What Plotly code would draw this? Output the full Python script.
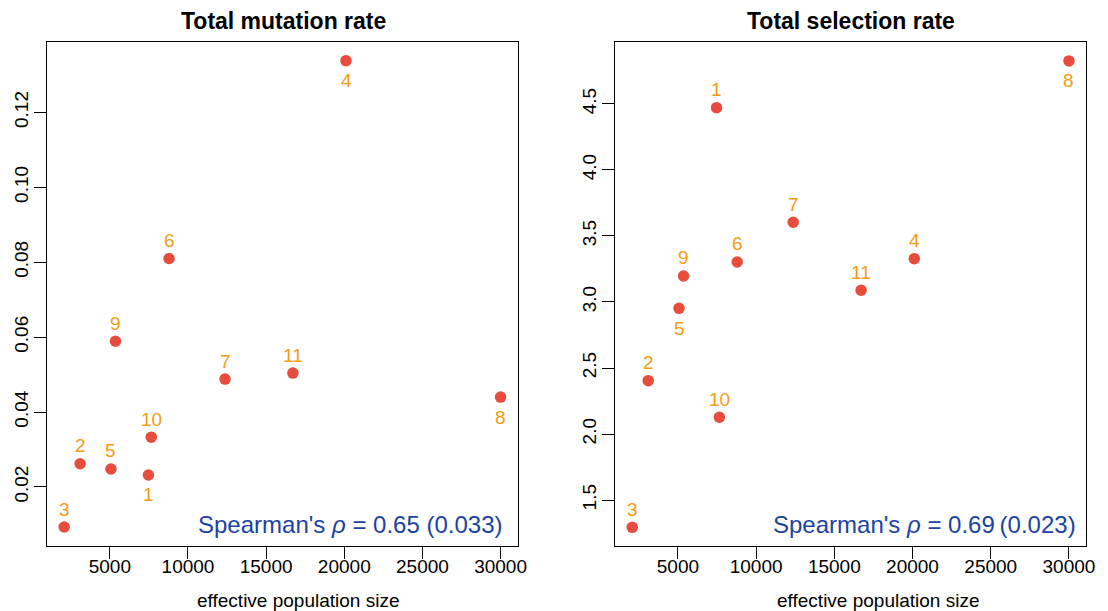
import plotly.graph_objects as go

# ---- data ----
ids = ["1", "2", "3", "4", "5", "6", "7", "8", "9", "10", "11"]
ne = [7470, 3100, 2080, 20110, 5070, 8790, 12370, 30000, 5360, 7650, 16710]
mutation = [0.0232, 0.0262, 0.0093, 0.1338, 0.0248, 0.0810, 0.0488, 0.0440, 0.0589, 0.0333, 0.0504]
selection = [4.472, 2.404, 1.293, 3.328, 2.952, 3.303, 3.604, 4.826, 3.197, 2.127, 3.089]
mut_label_below = ["1", "4", "8"]
sel_label_below = ["5", "8"]
x_ticks = [5000, 10000, 15000, 20000, 25000, 30000]
mut_ticks = [0.02, 0.04, 0.06, 0.08, 0.10, 0.12]
mut_ticklabels = ["0.02", "0.04", "0.06", "0.08", "0.10", "0.12"]
sel_ticks = [1.5, 2.0, 2.5, 3.0, 3.5, 4.0, 4.5]
sel_ticklabels = ["1.5", "2.0", "2.5", "3.0", "3.5", "4.0", "4.5"]
titles = ["Total mutation rate", "Total selection rate"]
xlab = "effective population size"
stats = ["Spearman's <i>ρ</i> = 0.65 (0.033)", "Spearman's <i>ρ</i> = 0.69\u2009(0.023)"]

FONT = "Liberation Sans, Arial, Helvetica, sans-serif"
RED = "#E74C3C"
ORANGE = "#F39C12"
BLUE = "#1a43a3"
W, H = 1108, 611

fig = go.Figure()
fig.add_trace(go.Scatter(x=ne, y=mutation, mode="markers", xaxis="x", yaxis="y",
                         marker=dict(color=RED, size=11.5, line=dict(width=0)), showlegend=False))
fig.add_trace(go.Scatter(x=ne, y=selection, mode="markers", xaxis="x2", yaxis="y2",
                         marker=dict(color=RED, size=11.5, line=dict(width=0)), showlegend=False))

annotations = []
for xs, ys, below, xr, yr in [(ne, mutation, mut_label_below, "x", "y"),
                              (ne, selection, sel_label_below, "x2", "y2")]:
    for i, lab in enumerate(ids):
        annotations.append(dict(x=xs[i], y=ys[i], xref=xr, yref=yr, text=lab, showarrow=False,
                                xanchor="center", yanchor="middle",
                                yshift=(-20 if lab in below else 18),
                                font=dict(family=FONT, size=19, color=ORANGE)))

# panel geometry (pixels)
left_px = [(47.3, 522.3), (620.0, 1095.3)]
top_px, bot_px = 42.3, 545.7
ydom = [1 - bot_px / H, 1 - top_px / H]
xdoms = [[a / W, b / W] for a, b in left_px]

title_x = [286, 858]
xlab_x = [300, 885]
stat_right = [509, 1087]
for k in range(2):
    annotations.append(dict(x=title_x[k] / W, y=1 - 21 / H, xref="paper", yref="paper",
                            text="<b>" + titles[k] + "</b>", showarrow=False,
                            xanchor="center", yanchor="middle",
                            font=dict(family=FONT, size=23, color="black")))
    annotations.append(dict(x=xlab_x[k] / W, y=1 - 600 / H, xref="paper", yref="paper",
                            text=xlab, showarrow=False, xanchor="center", yanchor="middle",
                            font=dict(family=FONT, size=19, color="black")))
    annotations.append(dict(x=stat_right[k] / W, y=1 - 524 / H, xref="paper", yref="paper",
                            text=stats[k], showarrow=False, xanchor="right", yanchor="middle",
                            font=dict(family=FONT, size=24, color=BLUE)))

axis_common = dict(showline=True, linecolor="black", linewidth=1, mirror=True,
                   ticks="outside", ticklen=12, tickwidth=1, tickcolor="black",
                   showgrid=False, zeroline=False,
                   tickfont=dict(family=FONT, size=19, color="black"))

xr = [975, 31117]
fig.update_layout(
    width=W, height=H,
    margin=dict(l=0, r=0, t=0, b=0),
    paper_bgcolor="white", plot_bgcolor="white",
    showlegend=False,
    xaxis=dict(domain=xdoms[0], range=xr, tickvals=x_ticks, ticktext=[str(v) for v in x_ticks],
               anchor="y", ticklabelstandoff=-9, **axis_common),
    yaxis=dict(domain=ydom, range=[0.00432, 0.1387], tickvals=mut_ticks, ticktext=mut_ticklabels,
               tickangle=-90, anchor="x", ticklabelstandoff=-2, **axis_common),
    xaxis2=dict(domain=xdoms[1], range=xr, tickvals=x_ticks, ticktext=[str(v) for v in x_ticks],
                anchor="y2", ticklabelstandoff=-9, **axis_common),
    yaxis2=dict(domain=ydom, range=[1.154, 4.967], tickvals=sel_ticks, ticktext=sel_ticklabels,
                tickangle=-90, anchor="x2", ticklabelstandoff=-2, **axis_common),
    annotations=annotations,
)

fig.write_html("out.html")
